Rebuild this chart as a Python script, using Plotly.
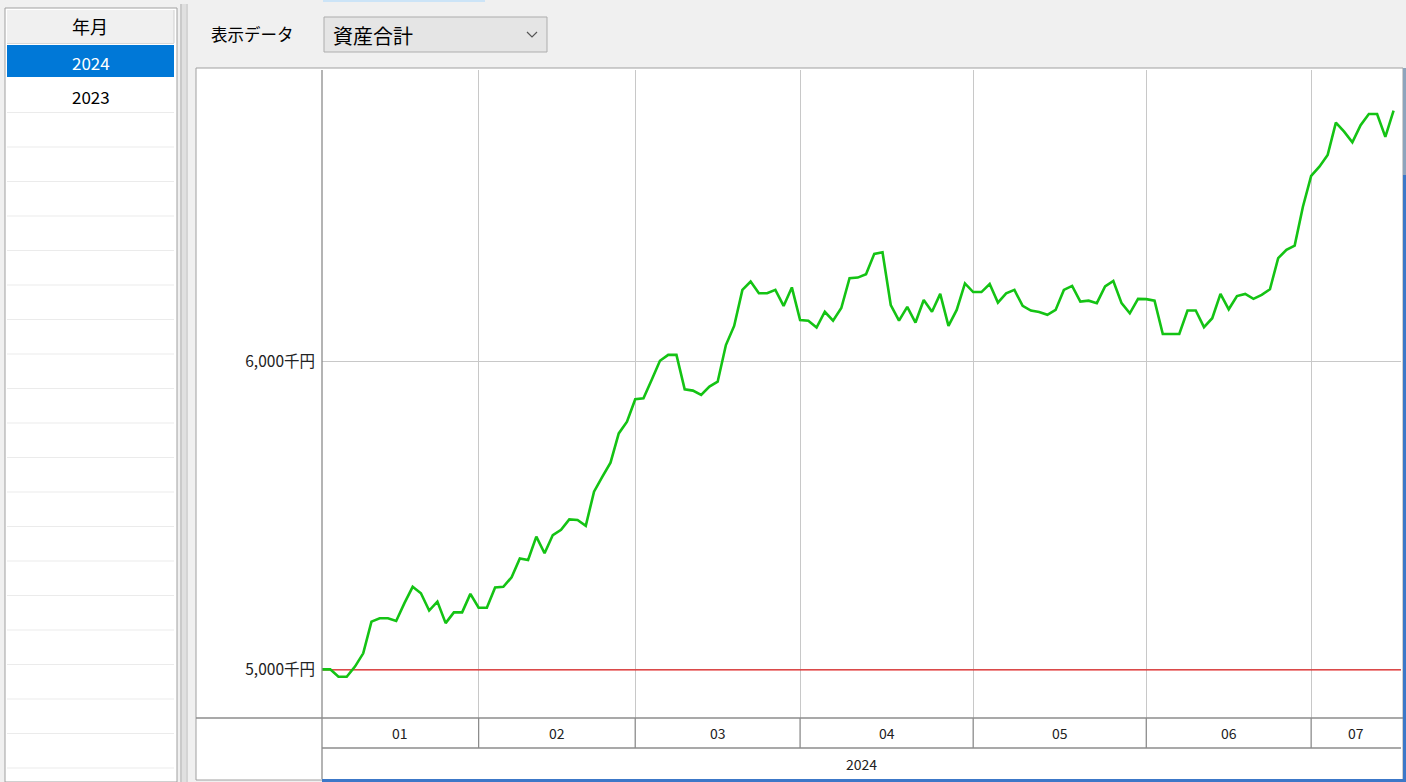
import plotly.graph_objects as go

W, H = 1406, 782

# ---- data ----
YEAR = "2024"
MONTHS = ["01", "02", "03", "04", "05", "06", "07"]
jan = [5002, 5002, 4978, 4978, 5011, 5054, 5157, 5168, 5168, 5159, 5217, 5270, 5249, 5193, 5222, 5152, 5187, 5187, 5247]
feb = [5202, 5202, 5268, 5270, 5301, 5362, 5357, 5433, 5379, 5438, 5455, 5489, 5487, 5468, 5579, 5627, 5673, 5768, 5806]
mar = [5879, 5882, 5942, 6004, 6023, 6023, 5911, 5907, 5893, 5920, 5936, 6055, 6117, 6234, 6261, 6223, 6223, 6234, 6182, 6242]
apr = [6136, 6134, 6112, 6163, 6134, 6175, 6272, 6274, 6285, 6351, 6356, 6185, 6134, 6179, 6128, 6201, 6163, 6221, 6117, 6169, 6255]
may = [6227, 6227, 6253, 6193, 6223, 6234, 6182, 6167, 6162, 6153, 6169, 6234, 6247, 6196, 6199, 6191, 6245, 6263, 6191, 6158, 6205]
jun = [6204, 6199, 6091, 6091, 6091, 6167, 6167, 6113, 6142, 6221, 6171, 6214, 6221, 6205, 6218, 6236, 6337, 6364, 6378, 6504]
jul = [6604, 6634, 6672, 6777, 6748, 6713, 6769, 6805, 6805, 6731, 6816]
MONTH_VALUES = [jan, feb, mar, apr, may, jun, jul]
BASELINE = 5000
Y_TICKS = [5000, 6000]
Y_TICK_TEXT = ["5,000千円", "6,000千円"]
LIST_ITEMS = ["2024", "2023"]

values = [v for m in MONTH_VALUES for v in m]
xs = list(range(len(values)))
starts = []
c = 0
for m in MONTH_VALUES:
    starts.append(c)
    c += len(m)
X_END = 130.9
ends = starts[1:] + [X_END]

def px(x):
    return x / W

def py(y):
    return 1 - y / H

FONT = "Noto Sans CJK JP"
shapes = []
annotations = []

def rect(x0, y0, x1, y1, fill, line=None, lw=1, layer="below"):
    shapes.append(dict(type="rect", xref="paper", yref="paper",
                       x0=px(x0), x1=px(x1), y0=py(y1), y1=py(y0),
                       fillcolor=fill, line=dict(color=line or fill, width=lw if line else 0),
                       layer=layer))

def hline(x0, x1, y, color, lw=1, layer="below"):
    shapes.append(dict(type="line", xref="paper", yref="paper",
                       x0=px(x0), x1=px(x1), y0=py(y), y1=py(y),
                       line=dict(color=color, width=lw), layer=layer))

def vline(x, y0, y1, color, lw=1, layer="below"):
    shapes.append(dict(type="line", xref="paper", yref="paper",
                       x0=px(x), x1=px(x), y0=py(y0), y1=py(y1),
                       line=dict(color=color, width=lw), layer=layer))

def text(x, y, s, size, color="#000", xanchor="center", family=FONT):
    annotations.append(dict(x=px(x), y=py(y), xref="paper", yref="paper", text=s,
                            showarrow=False, xanchor=xanchor, yanchor="middle",
                            font=dict(family=family, size=size, color=color)))

# ---- left list panel ----
rect(5, 8, 177, 782, "#ffffff", "#a0a0a0")
rect(7, 10, 174, 43, "#f0f0f0")
hline(7, 174, 43.5, "#d8d8d8")
vline(174, 10, 43, "#d0d0d0")
text(90, 26, "年月", 18, "#000")
rect(7, 45, 174, 77, "#0078d7")
text(91, 62, LIST_ITEMS[0], 17, "#ffffff")
text(91, 97, LIST_ITEMS[1], 17, "#000000")
ry = 112.5
while ry < 782:
    hline(7, 174, ry, "#ebebeb")
    ry += 34.5

# splitter
rect(180, 4, 188, 782, "#e0e0e0")
vline(181, 4, 782, "#b4b4b4")
vline(187, 4, 782, "#c8c8c8")

# top strip
rect(323, 0, 485, 2, "#cce4f7")

# combo box + label
text(209, 34, "表示データ", 16.5, "#000", xanchor="left")
rect(324, 17, 547, 52, "#e5e5e5", "#adadad")
text(331, 35, "資産合計", 20, "#000", xanchor="left")
shapes.append(dict(type="path", xref="paper", yref="paper",
                   path=f"M {px(527)} {py(32)} L {px(532)} {py(37)} L {px(537)} {py(32)}",
                   line=dict(color="#555", width=1.2), layer="above"))

# chart frame
rect(196, 68, 1403, 780, "#ffffff", "#a0a0a0")
# right edge / bottom accents
rect(1403, 68, 1406, 175, "#8ea4bc", layer="above")
rect(1403, 175, 1406, 782, "#3c78c8", layer="above")
rect(322, 779, 1406, 782, "#3c78c8", layer="above")

# axis bands under plot
hline(196, 1403, 718, "#8c8c8c", 1.3, layer="above")
hline(322, 1401, 748, "#8c8c8c", 1.3, layer="above")
vline(322, 70, 779, "#8c8c8c", 1.3, layer="above")
for s in starts[1:]:
    shapes.append(dict(type="line", xref="x", yref="paper", x0=s, x1=s,
                       y0=py(748), y1=py(718), line=dict(color="#8c8c8c", width=1.3),
                       layer="above"))
for i, m in enumerate(MONTHS):
    annotations.append(dict(x=(starts[i] + ends[i]) / 2, y=py(733), xref="x", yref="paper",
                            text=m, showarrow=False, xanchor="center", yanchor="middle",
                            font=dict(family=FONT, size=14, color="#222")))
annotations.append(dict(x=(0 + X_END) / 2, y=py(764), xref="x", yref="paper",
                        text=YEAR, showarrow=False, xanchor="center", yanchor="middle",
                        font=dict(family=FONT, size=14, color="#222")))

# baseline
shapes.append(dict(type="line", xref="x", yref="y", x0=0, x1=X_END, y0=BASELINE, y1=BASELINE,
                   line=dict(color="#e02020", width=1.3), layer="between"))

fig = go.Figure()
fig.add_trace(go.Scatter(x=xs, y=values, mode="lines",
                         line=dict(color="#14c314", width=2.6), hoverinfo="y",
                         showlegend=False))

fig.update_layout(
    width=W, height=H,
    margin=dict(l=0, r=0, t=0, b=0),
    paper_bgcolor="#f0f0f0",
    plot_bgcolor="rgba(0,0,0,0)",
    shapes=shapes,
    annotations=annotations,
    xaxis=dict(domain=[px(322), px(1401)], range=[0, X_END], tickvals=starts,
               showticklabels=False, showgrid=True, gridcolor="#c8c8c8", gridwidth=1,
               zeroline=False, showline=False, ticks="", fixedrange=True),
    yaxis=dict(domain=[py(718), py(70)], range=[4844, 6948], tickvals=Y_TICKS,
               ticktext=Y_TICK_TEXT, showgrid=True, gridcolor="#c8c8c8", gridwidth=1,
               zeroline=False, showline=False, ticks="", ticklabelstandoff=6,
               tickfont=dict(family=FONT, size=15.5, color="#222"), fixedrange=True),
    showlegend=False,
)

fig.write_html("out.html", config={"displayModeBar": False},
               post_script="document.body.style.margin='0';document.body.style.overflow='hidden';")
